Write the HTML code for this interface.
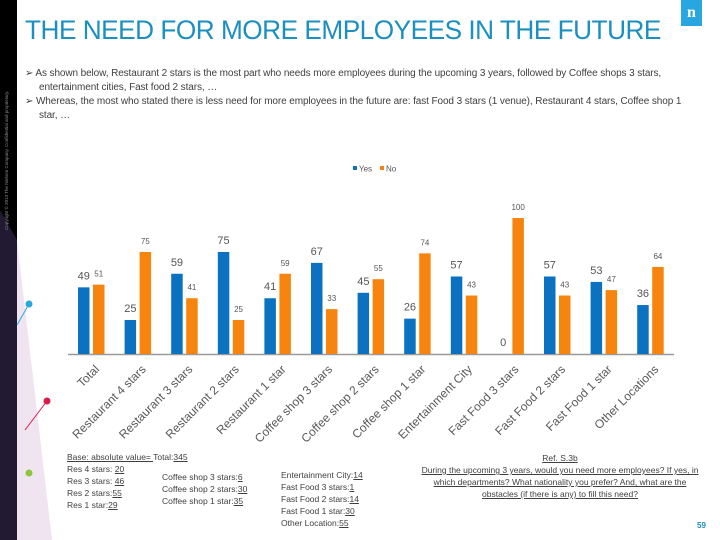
<!DOCTYPE html>
<html><head><meta charset="utf-8"><style>
body{margin:0;width:720px;height:540px;overflow:hidden;background:#fff;font-family:"Liberation Sans",sans-serif;position:relative}
.t{position:absolute;color:#404040}
u{text-decoration:underline}
</style></head><body>
<div style="position:absolute;left:0;top:0;width:17px;height:540px;background:#000"></div>
<svg style="position:absolute;left:0;top:0" width="80" height="540">
<polygon points="0,210 17,240 17,540 0,540" fill="#2a2040" opacity="0.8"/>
<polygon points="17,240 52,540 17,540" fill="#e6d2e6" opacity="0.6"/>
<line x1="17" y1="325" x2="29" y2="304" stroke="#29a8e0"/><circle cx="29" cy="304" r="3.5" fill="#29a8e0"/>
<line x1="25" y1="430" x2="47" y2="401" stroke="#d81b4a"/><circle cx="47" cy="401" r="3.5" fill="#d81b4a"/>
<circle cx="29" cy="473" r="3.5" fill="#8cc63f"/>
<text x="8" y="230" transform="rotate(-90 8 230)" font-size="4.5" fill="#888">Copyright © 2013 The Nielsen Company. Confidential and proprietary.</text>
</svg>
<div class="t" style="left:25px;top:15px;font-size:27px;color:#1b8fc0;transform:scaleX(0.97);transform-origin:left top;white-space:nowrap;letter-spacing:-0.5px">THE NEED FOR MORE EMPLOYEES IN THE FUTURE</div>
<div style="position:absolute;left:681px;top:0;width:21px;height:26px;background:#27a6df;color:#fff;font:bold 16px 'Liberation Serif',serif;text-align:center;line-height:26px">n</div>
<div class="t" style="left:25px;top:67px;width:665px;font-size:10px;line-height:14px;letter-spacing:-0.1px">
<div style="padding-left:14px;text-indent:-14px">➢ As shown below, Restaurant 2 stars is the most part who needs more employees during the upcoming 3 years, followed by Coffee shops 3 stars, entertainment cities, Fast food 2 stars, …</div>
<div style="padding-left:14px;text-indent:-14px">➢ Whereas, the most who stated there is less need for more employees in the future are: fast Food 3 stars (1 venue), Restaurant 4 stars, Coffee shop 1 star, …</div>
</div>
<svg id="chart" style="position:absolute;left:0;top:0" width="720" height="540"></svg>
<div class="t" style="left:67px;top:451px;font-size:8.5px;line-height:12px"><u>Base: absolute value= </u>Total:<u>345</u><br>Res 4 stars: <u>20</u><br>Res 3 stars: <u>46</u><br>Res 2 stars:<u>55</u><br>Res 1 star:<u>29</u></div>
<div class="t" style="left:162px;top:471px;font-size:8.5px;line-height:12px">Coffee shop 3 stars:<u>6</u><br>Coffee shop 2 stars:<u>30</u><br>Coffee shop 1 star:<u>35</u></div>
<div class="t" style="left:281px;top:469px;font-size:8.5px;line-height:12px">Entertainment City:<u>14</u><br>Fast Food 3 stars:<u>1</u><br>Fast Food 2 stars:<u>14</u><br>Fast Food 1 star:<u>30</u><br>Other Location:<u>55</u></div>
<div class="t" style="left:415px;top:452px;width:290px;text-align:center;font-size:8.5px;line-height:12px;text-decoration:underline">Ref. S.3b<br>During the upcoming 3 years, would you need more employees? If yes, in which departments? What nationality you prefer? And, what are the obstacles (if there is any) to fill this need?</div>
<div class="t" style="left:697px;top:521px;font-size:8px;font-weight:bold;color:#1b8fc0">59</div>
<script>
const categories=["Total","Restaurant 4 stars","Restaurant 3 stars","Restaurant 2 stars","Restaurant 1 star","Coffee shop 3 stars","Coffee shop 2 stars","Coffee shop 1 star","Entertainment City","Fast Food 3 stars","Fast Food 2 stars","Fast Food 1 star","Other Locations"];
const yesValues=[49,25,59,75,41,67,45,26,57,0,57,53,36];
const noValues=[51,75,41,25,59,33,55,74,43,100,43,47,64];
const seriesNames=["Yes","No"];
const NS="http://www.w3.org/2000/svg",svg=document.getElementById("chart");
const base=354,scale=1.36,x0=78,step=46.6,bw=11.5;
const y=v=>base-v*scale, x=i=>x0+i*step;
function mk(t,a){const e=document.createElementNS(NS,t);for(const k in a)e.setAttribute(k,a[k]);svg.appendChild(e);return e;}
const ax=mk("line",{x1:68,x2:674,y1:base+0.5,y2:base+0.5,stroke:"#999","stroke-width":1.5});


categories.forEach((c,i)=>{
 const b1=mk("rect",{x:x(i),y:y(yesValues[i]),width:bw,height:yesValues[i]*scale,fill:"#0b72c1"});
 
 
 const b2=mk("rect",{x:x(i)+15,y:y(noValues[i]),width:bw,height:noValues[i]*scale,fill:"#f7840f"});
 
 
 const l1=mk("text",{x:x(i)+bw/2,y:y(yesValues[i])-8,"text-anchor":"middle","font-size":11,fill:"#555"});l1.textContent=yesValues[i];
 
 
 const l2=mk("text",{x:x(i)+15+bw/2,y:y(noValues[i])-8,"text-anchor":"middle","font-size":8,fill:"#555"});l2.textContent=noValues[i];
 
 
 const cx=x(i)+22,cy=370;
 const ct=mk("text",{x:cx,y:cy,"text-anchor":"end","font-size":12,fill:"#595959",transform:`rotate(-45 ${cx} ${cy})`});ct.textContent=c;
 
 
});
const cols=["#0b72c1","#f7840f"];
seriesNames.forEach((n,i)=>{
 const lx=353+i*27;
 const r=mk("rect",{x:lx,y:166,width:4,height:4,fill:cols[i]});
 
 
 const t=mk("text",{x:lx+6,y:171.5,"font-size":8,fill:"#555"});t.textContent=n;
 
 
});
</script>
</body></html>
